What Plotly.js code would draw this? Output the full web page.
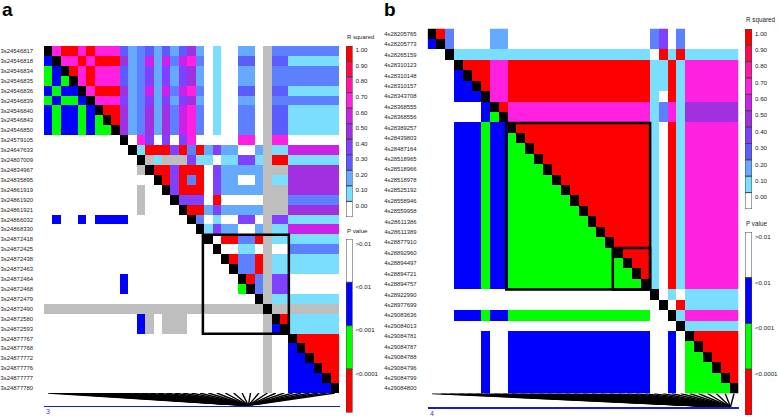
<!DOCTYPE html>
<html>
<head>
<meta charset="utf-8">
<script src="https://cdn.plot.ly/plotly-3.0.1.min.js"></script>
<style>
  html, body { margin: 0; padding: 0; background: #fff; }
</style>
</head>
<body>
<div id="graph" style="width:778px;height:417px"></div>
<script>
// SNP names per panel
const snpsA = ["3s24546817","3s24546818","3s24546834","3s24546835","3s24546836","3s24546839","3s24546840","3s24546843","3s24546850","3s24579105","3s24647633","3s24807009","3s24834967","3s24835895","3s24861919","3s24861920","3s24861921","3s24866032","3s24868330","3s24872418","3s24872425","3s24872438","3s24872463","3s24872464","3s24872468","3s24872479","3s24872490","3s24872580","3s24872593","3s24877767","3s24877768","3s24877772","3s24877776","3s24877777","3s24877780"];
const snpsB = ["4s28205765","4s28205773","4s28265159","4s28310123","4s28310148","4s28310157","4s28343708","4s28368555","4s28368556","4s28389257","4s28439803","4s28487164","4s28518965","4s28518966","4s28518978","4s28525192","4s28558946","4s28559958","4s28611386","4s28611389","4s28877910","4s28892960","4s28894497","4s28894721","4s28894757","4s28922990","4s28977699","4s29083636","4s29084013","4s29084781","4s29084787","4s29084788","4s29084796","4s29084799","4s29084800"];

// one char per cell. above diagonal = R squared bin, below = P value bin
// . white, 1-9 r2 bins (a is between 2 and 3), R red, b blue, g green, x no data, # diagonal
const rowsA = [
  "#7RR7R77732a3232352.1..22.xaaaaaaaa",
  "b#77R7RRR52a626a67a.1..33.x33111111",
  "gb#R7R77732a4242452.1..22.xaaaaaaaa",
  "gbg#7R77732a4242452.1..22.xaaaaaaaa",
  "bgbb#7RRR52a626a67a.1..33.x33111111",
  "gbggb#77742a4242452.1..22.xaaaaaaaa",
  "bgbbgb#RR52a525a67a.1..aa.x33111111",
  "bgbbgbg#R52a525a67a.1..aa.x33111111",
  "bgbbgbgg#52a525a67a.1..aa.x33111111",
  ".........#.74.4.47.....77.x77......",
  "..........#1RRR4RaR2422..2x11666666",
  "...........#x1xxx411.11441xRR111111",
  "...........x#RR4RRR.422222xxx555555",
  ".............#R4RaR.422..2x11555555",
  "...........x..#4RRR.422222xxx555555",
  "...........x...#444.R.....xxxaaaaaa",
  "...........x....#RR2422222xxx555555",
  ".b..b.bbbb.......#a.1..44.x44111111",
  "..................#1422..2x11666666",
  "...................#.RRaaRx11111111",
  "....................#..11.x..aaaaaa",
  ".....................#RaaRx11111111",
  "......................#aaRx11111111",
  ".........b.............#Rax44......",
  ".........b.............g#ax44......",
  ".........................#x11111111",
  "xxxxxxxxxxxxxxxxxxxxxxxxxx#xxxxxxxx",
  "...........bx.xxx.........x#R111111",
  "...........bx.xxx.........xb#111111",
  "..........................x..#RRRRR",
  "..........................x..b#RRRR",
  "..........................x..bb#RRR",
  "..........................x..bbb#RR",
  "..........................x..bbbb#R",
  "..........................x..bbbbb#"
];
const rowsB = [
  "#Ra....22................a4.a......",
  "b#a....22................a4.a......",
  "..#1111111111111111111111.R1R111111",
  "...#RRR77RRRRRRRRRRRRRRRR11R1777777",
  "...b#RR77RRRRRRRRRRRRRRRR11R1777777",
  "...bb#R77RRRRRRRRRRRRRRRR11R1777777",
  "...bbb#77RRRRRRRRRRRRRRRR1.R1777777",
  "......b#R77777777777777771a71555555",
  "......bg#77777777777777771a71555555",
  "...bbbgbb#RRRRRRRRRRRRRRR1.R1777777",
  "...bbbgbbg#RRRRRRRRRRRRRR1.R1777777",
  "...bbbgbbgg#RRRRRRRRRRRRR1.R1777777",
  "...bbbgbbggg#RRRRRRRRRRRR1.R1777777",
  "...bbbgbbgggg#RRRRRRRRRRR1.R1777777",
  "...bbbgbbggggg#RRRRRRRRRR1.R1777777",
  "...bbbgbbgggggg#RRRRRRRRR1.R1777777",
  "...bbbgbbggggggg#RRRRRRRR1.R1777777",
  "...bbbgbbgggggggg#RRRRRRR1.R1777777",
  "...bbbgbbggggggggg#RRRRRR1.R1777777",
  "...bbbgbbgggggggggg#RRRRR1.R1777777",
  "...bbbgbbggggggggggg#RRRR1.R1777777",
  "...bbbgbbgggggggggggg#RRR1.R1777777",
  "...bbbgbbggggggggggggg#RR1.R1777777",
  "...bbbgbbgggggggggggggg#R1.R1777777",
  "...bbbgbbggggggggggggggg#1.R1777777",
  ".........................#.1.111111",
  "..........................#.R111111",
  "...bbbgbbgggggggggggggggg..#1777777",
  "............................#111111",
  "......b..bbbbbbbbbbbbbbbb..b.#RRRRR",
  "......b..bbbbbbbbbbbbbbbb..b.g#RRRR",
  "......b..bbbbbbbbbbbbbbbb..b.gg#RRR",
  "......b..bbbbbbbbbbbbbbbb..b.ggg#RR",
  "......b..bbbbbbbbbbbbbbbb..b.gggg#R",
  "......b..bbbbbbbbbbbbbbbb..b.ggggg#"
];

// cell code -> colour
const cellCodes = [".", "1", "2", "a", "3", "4", "5", "6", "7", "8", "9", "R", "b", "g", "x", "#"];
const cellColors = ["#ffffff", "#7adfff", "#66aaff", "#5c80ff", "#5a5cff", "#8040ff", "#a030e0", "#cc22e8", "#ff20e0", "#ff18a0", "#ff0850", "#ff0000", "#0000ff", "#00ff00", "#bebebe", "#000000"];

// legends
const rLabels = ["1.00","0.90","0.80","0.70","0.60","0.50","0.40","0.30","0.20","0.10","0.00"];
const rColors = ["#ff0000","#ff0850","#ff18a0","#ff20e0","#cc22e8","#a030e0","#8040ff","#5a5cff","#66aaff","#7adfff","#ffffff"];
const pLabels = [">0.01","<0.01","<0.001","<0.0001"];
const pColors = ["#ffffff","#0000ff","#00ff00","#ff0000"];

// haplotype blocks, first and last+1 SNP index
const blocksA = [[19, 29]];
const blocksB = [[9, 25], [21, 25]];

// chromosome lengths used for the position fan (bp)
const chrLenA = 35.9e6;
const chrLenB = 29.85e6;

const W = 778, H = 417;
const fontName = "Liberation Sans, Arial, sans-serif";

const px = (a, b) => [a / W, b / W];
const py = (top, bottom) => [(H - bottom) / H, (H - top) / H];

const layout = {
  width: W,
  height: H,
  margin: { l: 0, r: 0, t: 0, b: 0 },
  paper_bgcolor: "#fff",
  plot_bgcolor: "rgba(0,0,0,0)",
  showlegend: false,
  barmode: "overlay",
  bargap: 0,
  shapes: [],
  annotations: [],
  font: { family: fontName, color: "#222" },
};
const traces = [];
let axisNo = 0;

const hidden = { visible: false, fixedrange: true, showgrid: false, zeroline: false };

// adds a new pair of axes, returns the names
const addAxes = (xOpts, yOpts) => {
  axisNo++;
  const s = axisNo === 1 ? "" : String(axisNo);
  layout["xaxis" + s] = Object.assign({}, hidden, { anchor: "y" + s }, xOpts);
  layout["yaxis" + s] = Object.assign({}, hidden, { anchor: "x" + s }, yOpts);
  return { x: "x" + s, y: "y" + s };
};

const drawPanel = (p) => {
  const n = p.snps.length;
  const idx = p.snps.map((_, i) => i + 0.5);
  const ax = addAxes(
    { domain: px(p.left, p.right), range: [0, n] },
    {
      domain: py(p.top, p.bottom), range: [n, 0], visible: true,
      showline: false, ticks: "", tickvals: idx, ticktext: p.snps,
      tickfont: { size: 5.9, color: "#222" }, ticklabelstandoff: 10, automargin: false,
    }
  );
  const nc = cellCodes.length;
  const scale = [];
  cellColors.forEach((c, i) => { scale.push([i / nc, c]); scale.push([(i + 1) / nc, c]); });
  traces.push({
    type: "heatmap",
    x: idx,
    y: idx,
    z: p.rows.map((r) => r.split("").map((c) => cellCodes.indexOf(c))),
    zmin: -0.5,
    zmax: nc - 0.5,
    colorscale: scale,
    showscale: false,
    hoverinfo: "skip",
    xaxis: ax.x,
    yaxis: ax.y,
  });
  // block outlines
  p.blocks.forEach((b) => {
    layout.shapes.push({
      type: "rect", xref: ax.x, yref: ax.y, layer: "above",
      x0: b[0] - 0.15, x1: b[1] + 0.05, y0: b[0] + 0.05, y1: b[1] + 0.03,
      line: { color: "#000", width: 2.5 },
    });
  });

  // lines from each SNP down to its place on the chromosome
  const fan = addAxes(
    {
      domain: px(p.left, p.baseEnd), range: [0, n * (p.baseEnd - p.left) / (p.right - p.left)], visible: true,
      showline: true, linecolor: "#1a1ad0", linewidth: 1.5,
      showticklabels: false, ticks: "",
    },
    { domain: py(p.bottom, p.baseY), range: [1, 0] }
  );
  const fx = [], fy = [];
  p.snps.forEach((s, i) => {
    const pos = Number(s.slice(2));
    fx.push(i + 0.5, (pos / p.chrLen) * n, null);
    fy.push(0, 1, null);
  });
  traces.push({
    type: "scatter", mode: "lines", x: fx, y: fy,
    line: { color: "#000", width: 1.4 }, hoverinfo: "skip",
    xaxis: fan.x, yaxis: fan.y,
  });
  layout.annotations.push({
    text: p.chr, xref: "paper", yref: "paper", x: p.left / W, y: (H - p.baseY - 6) / H,
    xanchor: "left", yanchor: "middle", showarrow: false, font: { size: 7, color: "#3a3ad0" },
  });
  layout.annotations.push({
    text: "<b>" + p.letter + "</b>", xref: "paper", yref: "paper", x: p.letterX / W, y: (H - 9.5) / H,
    xanchor: "left", yanchor: "middle", showarrow: false, font: { size: 19, color: "#000" },
  });
};

// vertical colour key with labels next to each segment
const drawKey = (k) => {
  const n = k.colors.length;
  const y = k.colors.map(() => 1);
  const ax = addAxes(
    { domain: px(k.left, k.right), range: [-0.5, 0.5] },
    {
      domain: py(k.top, k.bottom), range: [n, 0], visible: true, side: "right",
      showline: false, ticks: "", tickvals: k.colors.map((_, i) => i + k.labelOffset), ticktext: k.labels,
      tickfont: { size: 6.2, color: "#222" }, ticklabelstandoff: 2, automargin: false,
    }
  );
  traces.push({
    type: "bar", x: k.colors.map(() => 0), y: y, base: k.colors.map((_, i) => i), width: 1,
    marker: { color: k.colors, line: { color: "#444", width: 1 } },
    hoverinfo: "skip", xaxis: ax.x, yaxis: ax.y,
  });
  layout.annotations.push({
    text: k.title, xref: "paper", yref: "paper", x: (k.left - 1.5) / W, y: (H - k.top + 9) / H,
    xanchor: "left", yanchor: "middle", showarrow: false, font: { size: k.titleSize, color: "#222" },
  });
};

drawPanel({ snps: snpsA, rows: rowsA, blocks: blocksA, chrLen: chrLenA, chr: "3", letter: "a", letterX: 0,
  left: 44, right: 339, top: 46, bottom: 393, baseEnd: 340, baseY: 405.5 });
drawPanel({ snps: snpsB, rows: rowsB, blocks: blocksB, chrLen: chrLenB, chr: "4", letter: "b", letterX: 382,
  left: 427.6, right: 738.5, top: 28.5, bottom: 393.5, baseEnd: 739, baseY: 407 });

drawKey({ colors: rColors, labels: rLabels, title: "R squared", titleSize: 5.9, labelOffset: 0.27, left: 346, right: 352.5, top: 46, bottom: 217 });
drawKey({ colors: pColors, labels: pLabels, title: "P value", titleSize: 6.2, labelOffset: 0.1, left: 346, right: 352.5, top: 239, bottom: 412.5 });
drawKey({ colors: rColors, labels: rLabels, title: "R squared", titleSize: 6.3, labelOffset: 0.27, left: 745, right: 752, top: 29, bottom: 209 });
drawKey({ colors: pColors, labels: pLabels, title: "P value", titleSize: 6.3, labelOffset: 0.1, left: 745, right: 752, top: 232, bottom: 415 });

Plotly.newPlot("graph", traces, layout, { displayModeBar: false, staticPlot: true });
</script>
</body>
</html>
